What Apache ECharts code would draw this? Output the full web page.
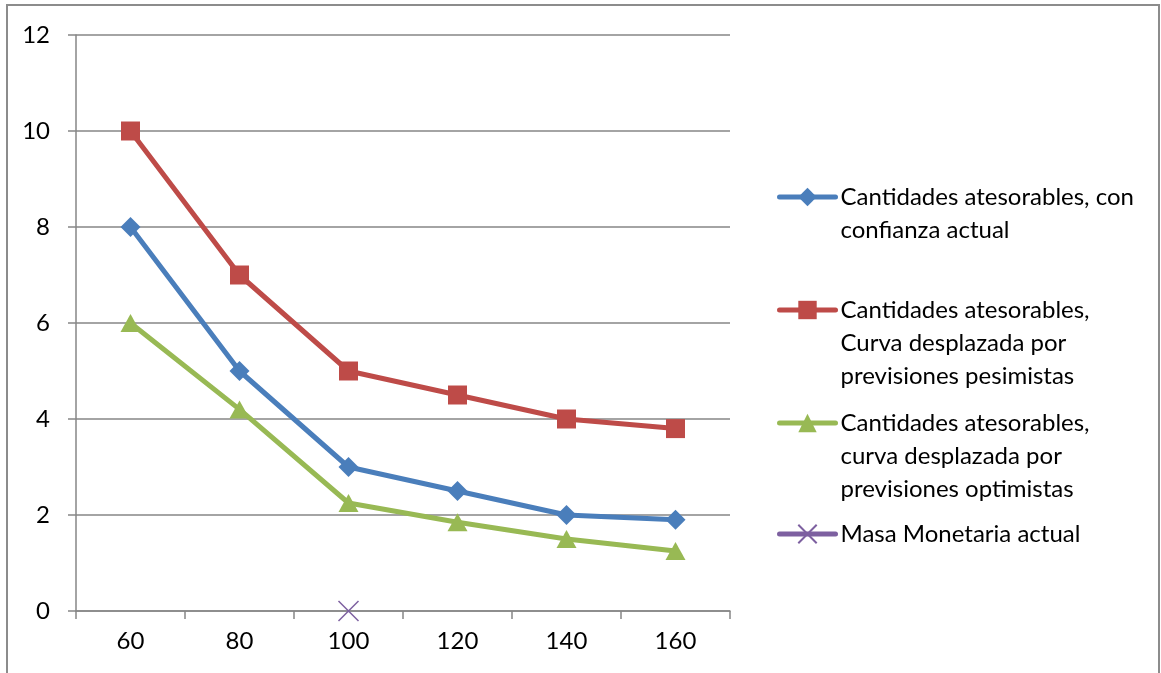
<!DOCTYPE html>
<html><head><meta charset="utf-8">
<script src="https://cdn.jsdelivr.net/npm/echarts@6/dist/echarts.min.js"></script>
<style>html,body{margin:0;padding:0;background:#fff}#c{width:1161px;height:673px}</style>
</head><body><div id="c"></div>
<script>
const categories = ['60','80','100','120','140','160'];
const seriesNames = [
  'Cantidades atesorables, con confianza actual',
  'Cantidades atesorables, Curva desplazada por previsiones pesimistas',
  'Cantidades atesorables, curva desplazada por previsiones optimistas',
  'Masa Monetaria actual'
];
const legendLines = [
  ['Cantidades atesorables, con', 'confianza actual'],
  ['Cantidades atesorables,', 'Curva desplazada por', 'previsiones pesimistas'],
  ['Cantidades atesorables,', 'curva desplazada por', 'previsiones optimistas'],
  ['Masa Monetaria actual']
];
const actual = [8, 5, 3, 2.5, 2, 1.9];
const pesimista = [10, 7, 5, 4.5, 4, 3.8];
const optimista = [6, 4.2, 2.25, 1.85, 1.5, 1.25];
const masa = [null, null, 0, null, null, null];
const yTicks = [0, 2, 4, 6, 8, 10, 12];

const FONT = 'Lato';
const FS = 24;
const colors = ['#4a7ebb', '#be4b48', '#98b954', '#7d60a0'];
const LH = 33;
const firstLineY = [197, 310, 423, 534];

const chart = echarts.init(document.getElementById('c'));
const xPath = 'path://M0,0L10,10M10,0L0,10';
chart.setOption({
  animation: false,
  color: colors,
  graphic: [{type: 'rect', shape: {x: 7, y: 5, width: 1152, height: 700}, style: {fill: 'none', stroke: '#8c8c8c', lineWidth: 2}}],
  grid: {left: 76, right: 431, top: 35, bottom: 62, containLabel: false},
  legend: seriesNames.map((n, i) => {
    const k = legendLines[i].length;
    const blanks = new Array(k - 1).fill(' ');
    return {
      orient: 'vertical', left: 777, top: firstLineY[i] - (2 * k - 1) * LH / 2, data: [n],
      padding: 0, itemWidth: 56, itemHeight: 23, selectedMode: false,
      lineStyle: {width: 5, cap: 'round'},
      formatter: () => blanks.concat(legendLines[i]).join('\n'),
      textStyle: {fontFamily: FONT, fontSize: FS, color: '#000', lineHeight: LH, padding: [0, 0, 0, 0]}
    };
  }),
  xAxis: {
    type: 'category', data: categories, boundaryGap: true,
    axisLine: {lineStyle: {color: '#868686', width: 1.5}},
    axisTick: {show: true, length: 8, alignWithLabel: false, lineStyle: {color: '#868686', width: 1.5}},
    axisLabel: {fontFamily: FONT, fontSize: FS, color: '#000', margin: 18},
    splitLine: {show: false}
  },
  yAxis: {
    type: 'value', min: yTicks[0], max: yTicks[yTicks.length - 1], interval: 2,
    axisLine: {show: true, lineStyle: {color: '#868686', width: 1.5}},
    axisTick: {show: true, length: 8, lineStyle: {color: '#868686', width: 1.5}},
    axisLabel: {fontFamily: FONT, fontSize: FS, color: '#000', margin: 26},
    splitLine: {show: true, lineStyle: {color: '#868686', width: 1.5}}
  },
  series: [
    {name: seriesNames[0], type: 'line', data: actual, symbol: 'diamond', symbolSize: [20, 20],
      lineStyle: {width: 5, color: colors[0]}, itemStyle: {color: colors[0]}},
    {name: seriesNames[1], type: 'line', data: pesimista, symbol: 'rect', symbolSize: 19,
      lineStyle: {width: 5, color: colors[1]}, itemStyle: {color: colors[1]}},
    {name: seriesNames[2], type: 'line', data: optimista, symbol: 'triangle', symbolSize: [20, 18],
      lineStyle: {width: 5, color: colors[2]}, itemStyle: {color: colors[2]}},
    {name: seriesNames[3], type: 'line', data: masa, symbol: xPath, symbolSize: 20,
      lineStyle: {width: 5, color: colors[3]},
      itemStyle: {color: colors[3], borderColor: colors[3], borderWidth: 1.5}}
  ]
});
</script></body></html>
